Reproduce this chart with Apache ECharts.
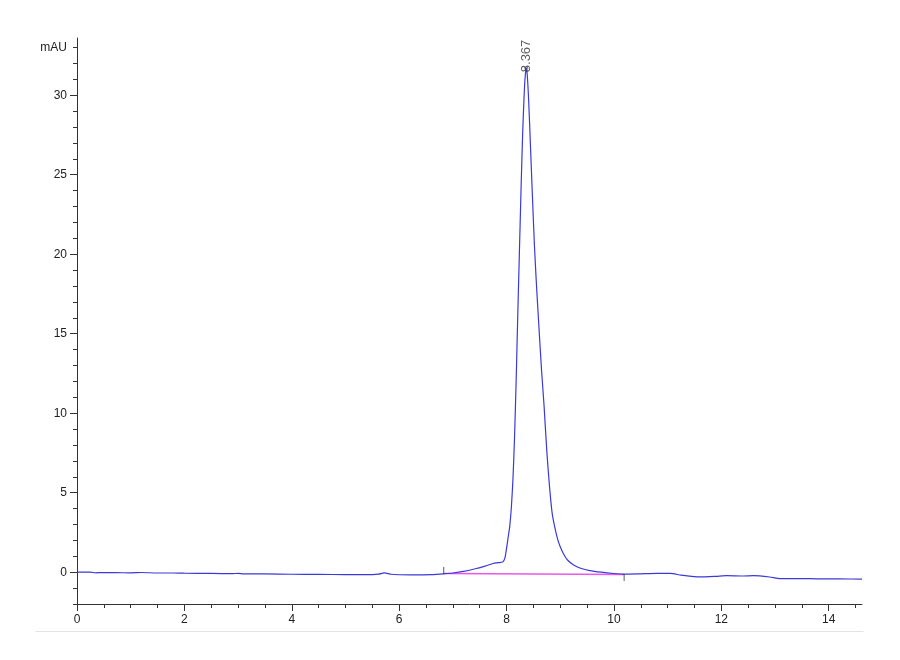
<!DOCTYPE html>
<html>
<head>
<meta charset="utf-8">
<script src="https://cdn.jsdelivr.net/npm/echarts@6/dist/echarts.min.js"></script>
<style>
html,body{margin:0;padding:0;background:#fff;}
#chart{width:900px;height:660px;}
</style>
</head>
<body>
<div id="chart"></div>
<script>
// Retention time (min)
var timeMin = [0, 0.25, 0.35, 0.45, 0.7, 1.0, 1.2, 1.5, 1.8, 2.0, 2.5, 2.9, 3.0, 3.1, 3.5, 4.0, 4.5, 5.0, 5.5, 5.62, 5.72, 5.85, 6.0, 6.3, 6.6, 6.83, 7.0, 7.2, 7.4, 7.6, 7.75, 7.85, 7.93, 7.97, 8.00, 8.03, 8.06, 8.09, 8.12, 8.15, 8.18, 8.21, 8.24, 8.27, 8.30, 8.33, 8.35, 8.367, 8.385, 8.41, 8.44, 8.48, 8.52, 8.56, 8.60, 8.65, 8.70, 8.75, 8.80, 8.85, 8.90, 8.95, 9.00, 9.07, 9.14, 9.25, 9.38, 9.55, 9.76, 10.0, 10.19, 10.5, 10.8, 11.05, 11.25, 11.6, 11.9, 12.1, 12.4, 12.6, 12.9, 13.1, 13.5, 13.8, 14.2, 14.62];
// Signal (mAU)
var signal = [0, 0, -0.04, -0.02, -0.03, -0.04, -0.02, -0.05, -0.05, -0.06, -0.08, -0.09, -0.07, -0.1, -0.11, -0.13, -0.14, -0.15, -0.15, -0.12, -0.04, -0.13, -0.16, -0.17, -0.15, -0.1, -0.05, 0.05, 0.2, 0.38, 0.55, 0.6, 0.65, 0.9, 1.5, 2.2, 2.9, 4.1, 5.9, 8.6, 12.2, 16.3, 20.2, 24.1, 27.6, 30.2, 31.3, 31.7, 31.3, 29.8, 27.3, 23.8, 20.5, 17.9, 15.6, 12.8, 10.4, 7.6, 5.4, 3.7, 2.8, 2.1, 1.6, 1.1, 0.75, 0.45, 0.25, 0.1, 0.0, -0.08, -0.12, -0.1, -0.08, -0.08, -0.18, -0.3, -0.26, -0.22, -0.24, -0.22, -0.3, -0.4, -0.4, -0.42, -0.42, -0.44];
// Integration baseline (start, end)
var baselineTime = [6.83, 10.19];
var baselineSignal = [-0.08, -0.15];
// Peak annotation
var peakTime = 8.367;
var peakSignal = 31.7;
var peakLabel = '8.367';
// Axis labels
var xLabels = [0, 2, 4, 6, 8, 10, 12, 14];
var xMinorTicks = [0,0.5,1,1.5,2,2.5,3,3.5,4,4.5,5,5.5,6,6.5,7,7.5,8,8.5,9,9.5,10,10.5,11,11.5,12,12.5,13,13.5,14,14.5];
var yLabels = [0, 5, 10, 15, 20, 25, 30, 33];
var yMajorTicks = [0, 5, 10, 15, 20, 25, 30];
var yMinorTicks = [-2,-1,0,1,2,3,4,5,6,7,8,9,10,11,12,13,14,15,16,17,18,19,20,21,22,23,24,25,26,27,28,29,30,31,32,33];
var unitLabel = 'mAU';

var trace = timeMin.map(function (t, i) { return [t, signal[i]]; });
var base = baselineTime.map(function (t, i) { return [t, baselineSignal[i]]; });

var X_MIN = 0, X_MAX = 14.62, Y_MIN = -2, Y_MAX = 33.6;
var axisColor = '#333';
var font = 'Liberation Sans, Arial, sans-serif';

var chart = echarts.init(document.getElementById('chart'));
chart.setOption({
  animation: false,
  backgroundColor: '#fff',
  grid: { left: 77, right: 38, top: 38, bottom: 56 },
  xAxis: [{
    type: 'value', min: X_MIN, max: X_MAX, interval: 0.5,
    axisLine: { show: true, onZero: false, lineStyle: { color: axisColor, width: 1 } },
    axisTick: { show: true, length: 4, customValues: xMinorTicks, lineStyle: { color: axisColor } },
    axisLabel: { customValues: xLabels, color: '#222', fontFamily: font, fontSize: 12, margin: 10 },
    splitLine: { show: false }
  }, {
    type: 'value', min: X_MIN, max: X_MAX, interval: 0.5, position: 'bottom',
    axisLine: { show: false, onZero: false },
    axisTick: { show: true, length: 7, customValues: xLabels, lineStyle: { color: axisColor } },
    axisLabel: { show: false },
    splitLine: { show: false }
  }],
  yAxis: [{
    type: 'value', min: Y_MIN, max: Y_MAX, interval: 1,
    axisLine: { show: true, onZero: false, lineStyle: { color: axisColor, width: 1 } },
    axisTick: { show: true, length: 4, customValues: yMinorTicks, lineStyle: { color: axisColor } },
    axisLabel: {
      customValues: yLabels, color: '#222', fontFamily: font, fontSize: 12, margin: 10,
      formatter: function (v) { return v === 33 ? unitLabel : String(v); }
    },
    splitLine: { show: false }
  }, {
    type: 'value', min: Y_MIN, max: Y_MAX, interval: 1, position: 'left',
    axisLine: { show: false, onZero: false },
    axisTick: { show: true, length: 7, customValues: yMajorTicks, lineStyle: { color: axisColor } },
    axisLabel: { show: false },
    splitLine: { show: false }
  }],
  graphic: [{
    type: 'line', left: 33, top: 629,
    shape: { x1: 0, y1: 0, x2: 828, y2: 0 },
    style: { stroke: '#e3e3e3', lineWidth: 1 }
  }],
  series: [{
    type: 'line', data: base, symbol: 'none', silent: true,
    lineStyle: { color: '#ee55ee', width: 1.5 }, z: 2
  }, {
    type: 'line', data: trace, symbol: 'none', smooth: 0.2, silent: true,
    lineStyle: { color: '#3a3ad8', width: 1.2 }, z: 3
  }, {
    type: 'scatter', silent: true, z: 4,
    data: [
      { value: base[0], symbolOffset: [0, -3] },
      { value: base[1], symbolOffset: [0, 3] }
    ],
    symbol: 'rect', symbolSize: [1, 7],
    itemStyle: { color: '#333' }
  }, {
    type: 'scatter', silent: true, z: 5,
    data: [[peakTime, peakSignal]],
    symbol: 'circle', symbolSize: 3,
    itemStyle: { color: 'rgba(0,0,0,0)', borderColor: '#555', borderWidth: 1 },
    label: {
      show: true, formatter: peakLabel, position: 'top', rotate: 90,
      align: 'left', verticalAlign: 'middle', distance: -6,
      color: '#333', fontFamily: font, fontSize: 13
    }
  }]
});
</script>
</body>
</html>
